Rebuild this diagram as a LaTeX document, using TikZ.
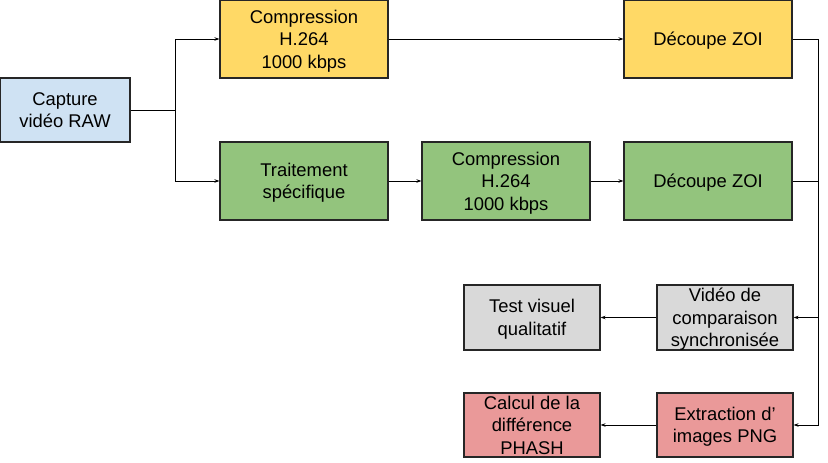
\documentclass[tikz,border=0pt]{standalone}
\usepackage{fontspec}
\setmainfont{Liberation Sans}
\usetikzlibrary{arrows.meta}
\definecolor{cblue}{HTML}{CFE2F3}
\definecolor{cyellow}{HTML}{FFD966}
\definecolor{cgreen}{HTML}{93C47D}
\definecolor{cgrey}{HTML}{D9D9D9}
\definecolor{cred}{HTML}{EA9999}
\begin{document}
\begin{tikzpicture}[x=1pt,y=-1pt,
  box/.style={draw=black!85,line width=1.1pt,align=center,inner sep=0pt,
    font=\fontsize{18.4}{22.5}\selectfont,
    text depth=0pt},
  big/.style={box,minimum width=168pt,minimum height=78pt},
  small/.style={box,minimum width=136pt,minimum height=65pt},
  conn/.style={line width=0.9pt,-{Stealth[length=5pt,width=3.5pt]}},
  plain/.style={line width=0.9pt}]
\useasboundingbox (0,0) rectangle (828,463);
\node[box,fill=cblue,minimum width=130pt,minimum height=64pt] (cap) at (65,110) {Capture\\vidéo RAW};
\node[big,fill=cyellow] (c1) at (304,39) {Compression\\H.264\\1000 kbps};
\node[big,fill=cyellow] (d1) at (708,39) {Découpe ZOI};
\node[big,fill=cgreen] (t) at (304,181) {Traitement\\spécifique};
\node[big,fill=cgreen] (c2) at (506,181) {Compression\\H.264\\1000 kbps};
\node[big,fill=cgreen] (d2) at (708,181) {Découpe ZOI};
\node[small,fill=cgrey] (v) at (725,317.5) {Vidéo de\\comparaison\\synchronisée};
\node[small,fill=cgrey] (tv) at (532,317.5) {Test visuel\\qualitatif};
\node[small,fill=cred,minimum height=64pt] (e) at (725,425) {Extraction d’\\images PNG};
\node[small,fill=cred,minimum height=64pt] (cd) at (532,425) {Calcul de la\\différence\\PHASH};
\coordinate (split) at (175,110);
\coordinate (join) at (818,181);
\draw[plain] (cap.east) -- (split);
\draw[conn] (split) |- (c1.west);
\draw[conn] (split) |- (t.west);
\draw[conn] (c1.east) -- (d1.west);
\draw[conn] (t.east) -- (c2.west);
\draw[conn] (c2.east) -- (d2.west);
\draw[plain] (d1.east) -| (join);
\draw[plain] (d2.east) -- (join);
\draw[conn] (join) |- (v.east);
\draw[conn] (join) |- (e.east);
\draw[conn] (v.west) -- (tv.east);
\draw[conn] (e.west) -- (cd.east);
\end{tikzpicture}
\end{document}
